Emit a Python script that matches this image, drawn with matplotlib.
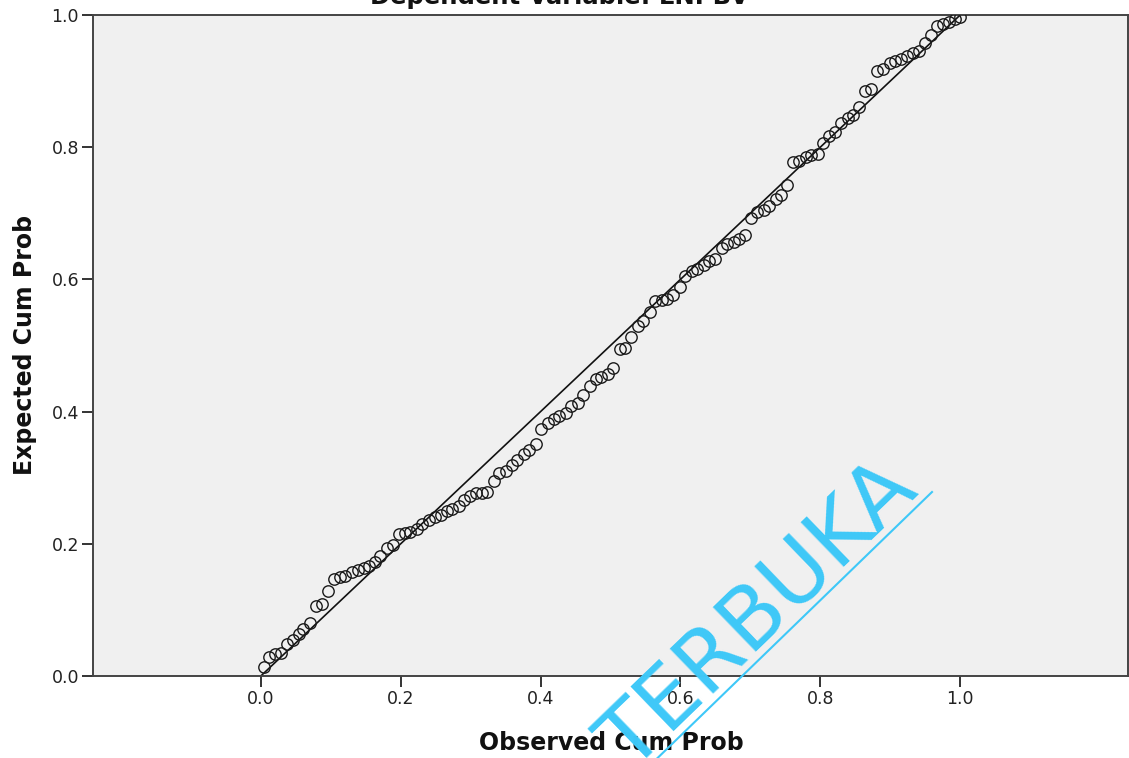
import matplotlib.pyplot as plt
from matplotlib.lines import Line2D

# observed / expected cumulative probabilities
observed = [0.004, 0.011, 0.020, 0.029, 0.037, 0.046, 0.054, 0.061, 0.070, 0.079,
            0.087, 0.096, 0.104, 0.113, 0.121, 0.130, 0.139, 0.147, 0.154, 0.163,
            0.171, 0.180, 0.189, 0.197, 0.206, 0.214, 0.223, 0.231, 0.240, 0.249,
            0.257, 0.266, 0.274, 0.283, 0.290, 0.299, 0.307, 0.316, 0.324, 0.333,
            0.341, 0.350, 0.359, 0.367, 0.376, 0.384, 0.393, 0.401, 0.410, 0.419,
            0.427, 0.436, 0.444, 0.453, 0.461, 0.470, 0.479, 0.487, 0.496, 0.504,
            0.513, 0.521, 0.530, 0.539, 0.547, 0.556, 0.564, 0.573, 0.581, 0.590,
            0.599, 0.607, 0.616, 0.624, 0.633, 0.641, 0.650, 0.659, 0.667, 0.676,
            0.684, 0.693, 0.701, 0.710, 0.719, 0.727, 0.736, 0.744, 0.753, 0.761,
            0.770, 0.779, 0.787, 0.796, 0.804, 0.813, 0.821, 0.830, 0.839, 0.847,
            0.856, 0.864, 0.873, 0.881, 0.890, 0.899, 0.907, 0.916, 0.924, 0.933,
            0.941, 0.950, 0.959, 0.967, 0.976, 0.984, 0.993, 1.000]
expected = [0.014, 0.029, 0.033, 0.035, 0.048, 0.054, 0.064, 0.071, 0.080, 0.106,
            0.109, 0.129, 0.147, 0.150, 0.151, 0.157, 0.160, 0.163, 0.166, 0.172,
            0.182, 0.194, 0.198, 0.215, 0.216, 0.218, 0.222, 0.230, 0.236, 0.241,
            0.244, 0.250, 0.253, 0.257, 0.266, 0.272, 0.277, 0.277, 0.278, 0.295,
            0.307, 0.310, 0.319, 0.327, 0.336, 0.342, 0.351, 0.374, 0.383, 0.389,
            0.393, 0.398, 0.408, 0.413, 0.425, 0.439, 0.449, 0.452, 0.457, 0.466,
            0.495, 0.496, 0.513, 0.530, 0.537, 0.551, 0.567, 0.569, 0.570, 0.576,
            0.588, 0.605, 0.613, 0.616, 0.622, 0.628, 0.631, 0.648, 0.654, 0.657,
            0.661, 0.667, 0.693, 0.702, 0.705, 0.711, 0.722, 0.728, 0.743, 0.778,
            0.779, 0.785, 0.788, 0.790, 0.806, 0.817, 0.823, 0.837, 0.844, 0.849,
            0.861, 0.885, 0.888, 0.915, 0.918, 0.927, 0.930, 0.933, 0.938, 0.942,
            0.946, 0.958, 0.970, 0.983, 0.986, 0.989, 0.994, 0.997]

ticks = [0.0, 0.2, 0.4, 0.6, 0.8, 1.0]
tick_labels = ['0.0', '0.2', '0.4', '0.6', '0.8', '1.0']

W, H = 1129, 758
fig = plt.figure(figsize=(W / 100, H / 100), dpi=100)
ax = fig.add_axes([93 / W, (H - 676) / H, (1128 - 93) / W, (676 - 15) / H])
ax.set_facecolor('#f0f0f0')

# diagonal reference line
ax.plot([0, 1], [0, 1], color='#111111', lw=1.2, zorder=2)
ax.plot(observed, expected, 'o', ms=8.2, mfc='none', mec='#1a1a1a', mew=1.0, zorder=3)

ax.set_xlim(-0.24, 1.24)
ax.set_ylim(0, 1)
ax.set_xticks(ticks)
ax.set_xticklabels(tick_labels)
ax.set_yticks(ticks)
ax.set_yticklabels(tick_labels)
ax.tick_params(direction='out', length=8, width=1.4, color='#333333',
               labelsize=12.5, labelcolor='#222222', pad=2)
for s in ax.spines.values():
    s.set_color('#444444')
    s.set_linewidth(1.4)

# title sits mostly above the top edge, as in the source screenshot
fig.text(559 / W, 1 - 4 / H, 'Dependent Variable: LNPBV', ha='center', va='baseline',
         fontsize=17.5, fontweight='bold', color='#111111')
fig.text(611 / W, 1 - 750 / H, 'Observed Cum Prob', ha='center', va='baseline',
         fontsize=17, fontweight='bold', color='#111111')
fig.text(25 / W, 1 - 345 / H, 'Expected Cum Prob', ha='center', va='center',
         rotation=90, fontsize=17, fontweight='bold', color='#111111')

# watermark
blue = '#3ec8f8'
fig.text(631 / W, 1 - 773 / H, 'TERBUKA', ha='left', va='baseline', rotation=44,
         rotation_mode='anchor', fontsize=62, color=blue, zorder=10)
fig.add_artist(Line2D([640 / W, 932 / W], [1 - 775 / H, 1 - 492 / H],
                      color=blue, lw=1.5, zorder=10))

fig.savefig('out.png', dpi=100)
